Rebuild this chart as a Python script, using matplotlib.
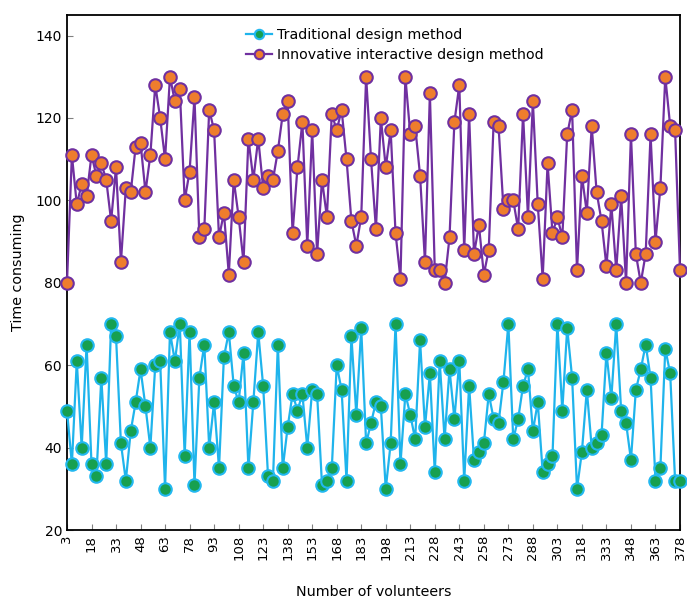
import numpy as np
import matplotlib
matplotlib.use("Agg")
import matplotlib.pyplot as plt

### volunteers 3, 6, ..., 378
volunteers = np.arange(3, 379, 3)

### time consuming, traditional design method
traditional = [
    49, 36, 61, 40, 65, 36, 33, 57, 36, 70, 67, 41, 32, 44, 51, 59, 50, 40, 60, 61, 30, 68, 61,
    70, 38, 68, 31, 57, 65, 40, 51, 35, 62, 68, 55, 51, 63, 35, 51, 68, 55, 33, 32, 65, 35,
    45, 53, 49, 53, 40, 54, 53, 31, 32, 35, 60, 54, 32, 67, 48, 69, 41, 46, 51, 50, 30, 41, 70,
    36, 53, 48, 42, 66, 45, 58, 34, 61, 42, 59, 47, 61, 32, 55, 37, 39, 41, 53, 47, 46, 56, 70,
    42, 47, 55, 59, 44, 51, 34, 36, 38, 70, 49, 69, 57, 30, 39, 54, 40, 41, 43, 63, 52, 70,
    49, 46, 37, 54, 59, 65, 57, 32, 35, 64, 58, 32, 32,
]

### time consuming, innovative interactive design method
innovative = [
    80, 111, 99, 104, 101, 111, 106, 109, 105, 95, 108, 85, 103, 102, 113, 114, 102, 111, 128, 120, 110,
    130, 124, 127, 100, 107, 125, 91, 93, 122, 117, 91, 97, 82, 105, 96, 85, 115, 105, 115, 103, 106, 105, 112, 121,
    124, 92, 108, 119, 89, 117, 87, 105, 96, 121, 117, 122, 110, 95, 89, 96, 130, 110, 93, 120, 108, 117, 92,
    81, 130, 116, 118, 106, 85, 126, 83, 83, 80, 91, 119, 128, 88, 121, 87, 94, 82, 88, 119, 118, 98,
    100, 100, 93, 121, 96, 124, 99, 81, 109, 92, 96, 91, 116, 122, 83, 106, 97, 118, 102, 95, 84, 99, 83,
    101, 80, 116, 87, 80, 87, 116, 90, 103, 130, 118, 117, 83,
]

x_ticks = np.arange(3, 379, 15)
y_ticks = np.arange(20, 141, 20)

fig = plt.figure(figsize=(6.87, 5.98), dpi=100)
ax = fig.add_axes([0.0975, 0.1137, 0.8923, 0.8613])

ax.plot(volunteers, traditional, color='#1fb4ec', linewidth=1.6, marker='o',
        markersize=9, markerfacecolor='#17a050', markeredgecolor='#22b8f0',
        markeredgewidth=1.5, label='Traditional design method', clip_on=False, zorder=3)
ax.plot(volunteers, innovative, color='#7030a0', linewidth=1.6, marker='o',
        markersize=9, markerfacecolor='#ee7d2d', markeredgecolor='#7030a0',
        markeredgewidth=1.5, label='Innovative interactive design method', clip_on=False, zorder=3)

ax.set_xlim(3, 378)
ax.set_ylim(20, 145)
ax.set_xticks(x_ticks)
ax.set_xticklabels([str(t) for t in x_ticks], rotation=90, fontsize=9.5)
ax.set_yticks(y_ticks)
ax.tick_params(axis='y', labelsize=10)
ax.tick_params(direction='in', length=4, color='#808080')

for s in ax.spines.values():
    s.set_linewidth(1.3)
    s.set_color('black')

ax.set_xlabel("Number of volunteers", fontsize=10.3, labelpad=18)
ax.set_ylabel("Time consuming", fontsize=10.3, labelpad=8)

ax.legend(loc='upper center', bbox_to_anchor=(0.535, 1.0), frameon=False, fontsize=10.2,
          handlelength=1.8, handletextpad=0.4, labelspacing=0.45, markerscale=0.75)

plt.savefig('out.png', dpi=100)
